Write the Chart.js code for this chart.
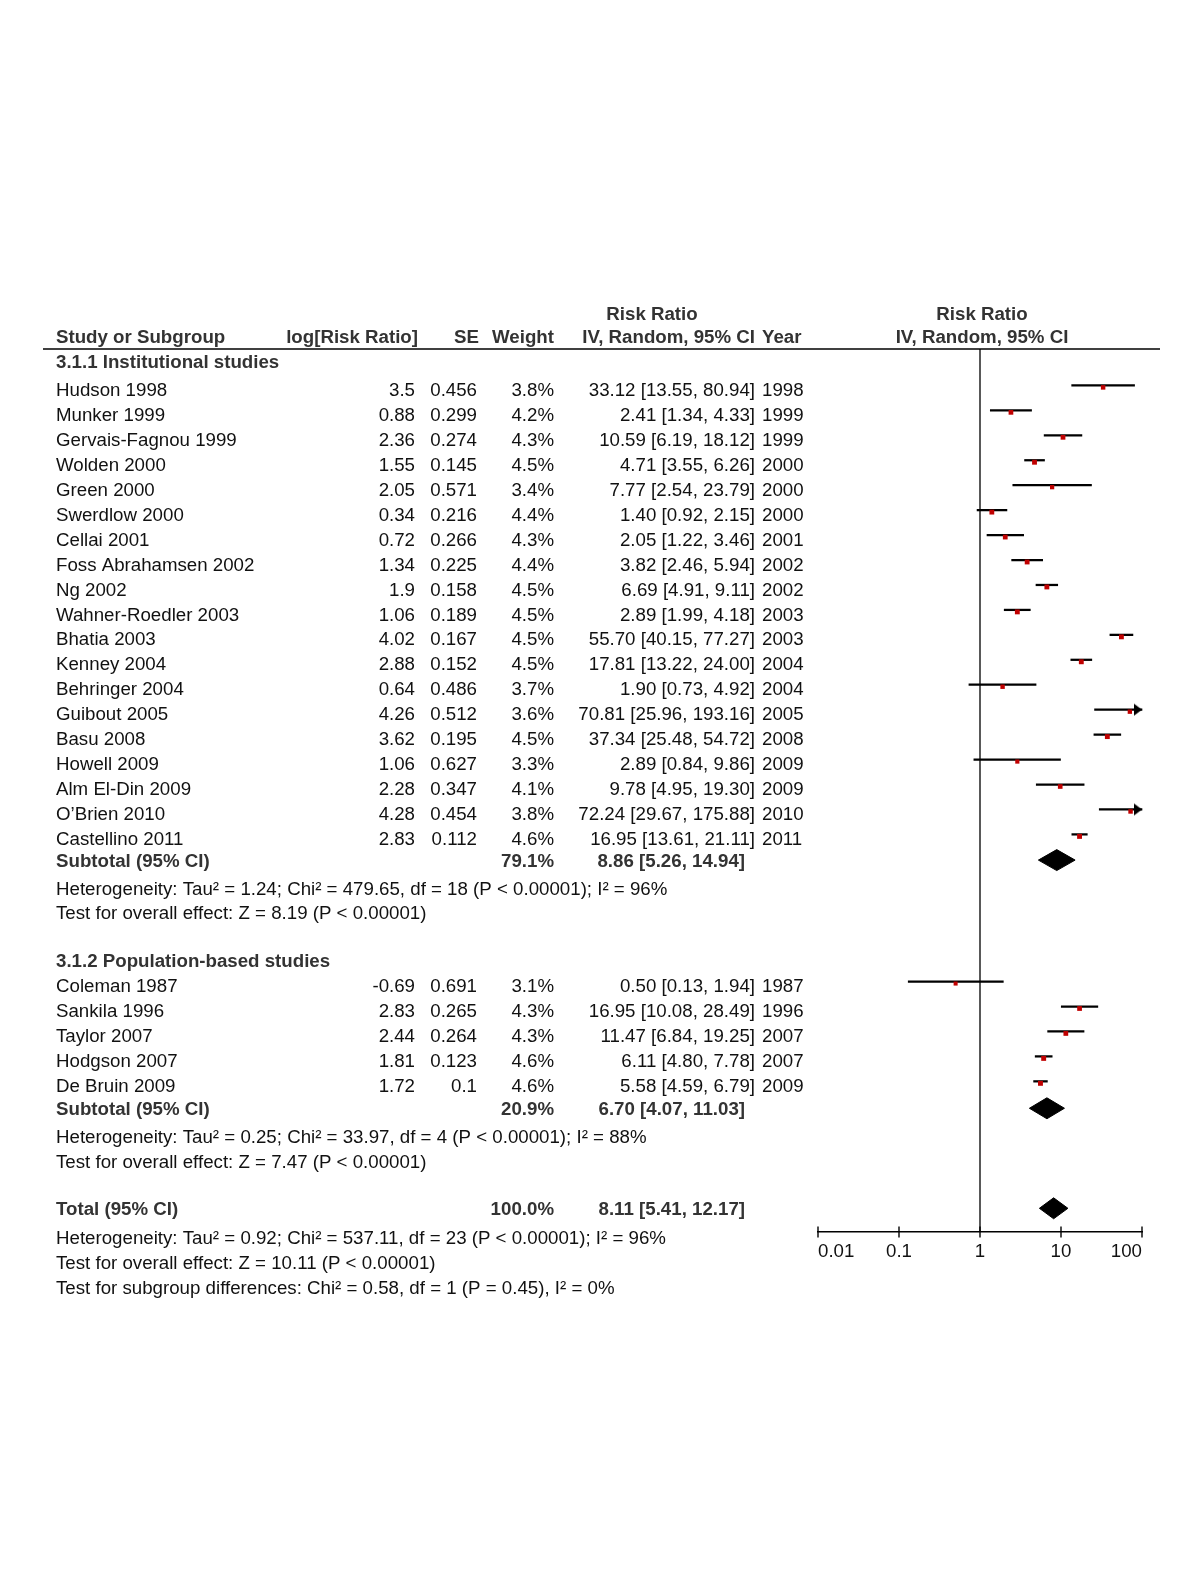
<!DOCTYPE html>
<html><head><meta charset="utf-8">
<script src="https://cdn.jsdelivr.net/npm/chart.js@4/dist/chart.umd.min.js"></script>
<style>html,body{margin:0;padding:0;background:#fff;}canvas{display:block;}</style>
</head><body>
<canvas id="c" width="1200" height="1595"></canvas>
<script>
// ---------- DATA ----------
const studies1 = ["Hudson 1998","Munker 1999","Gervais-Fagnou 1999","Wolden 2000","Green 2000","Swerdlow 2000","Cellai 2001","Foss Abrahamsen 2002","Ng 2002","Wahner-Roedler 2003","Bhatia 2003","Kenney 2004","Behringer 2004","Guibout 2005","Basu 2008","Howell 2009","Alm El-Din 2009","O\u2019Brien 2010","Castellino 2011"];
const logRR1  = [3.5,0.88,2.36,1.55,2.05,0.34,0.72,1.34,1.9,1.06,4.02,2.88,0.64,4.26,3.62,1.06,2.28,4.28,2.83];
const se1     = [0.456,0.299,0.274,0.145,0.571,0.216,0.266,0.225,0.158,0.189,0.167,0.152,0.486,0.512,0.195,0.627,0.347,0.454,0.112];
const weight1 = [3.8,4.2,4.3,4.5,3.4,4.4,4.3,4.4,4.5,4.5,4.5,4.5,3.7,3.6,4.5,3.3,4.1,3.8,4.6];
const rr1     = [33.12,2.41,10.59,4.71,7.77,1.40,2.05,3.82,6.69,2.89,55.70,17.81,1.90,70.81,37.34,2.89,9.78,72.24,16.95];
const lo1     = [13.55,1.34,6.19,3.55,2.54,0.92,1.22,2.46,4.91,1.99,40.15,13.22,0.73,25.96,25.48,0.84,4.95,29.67,13.61];
const hi1     = [80.94,4.33,18.12,6.26,23.79,2.15,3.46,5.94,9.11,4.18,77.27,24.00,4.92,193.16,54.72,9.86,19.30,175.88,21.11];
const year1   = [1998,1999,1999,2000,2000,2000,2001,2002,2002,2003,2003,2004,2004,2005,2008,2009,2009,2010,2011];

const studies2 = ["Coleman 1987","Sankila 1996","Taylor 2007","Hodgson 2007","De Bruin 2009"];
const logRR2  = [-0.69,2.83,2.44,1.81,1.72];
const se2     = [0.691,0.265,0.264,0.123,0.1];
const weight2 = [3.1,4.3,4.3,4.6,4.6];
const rr2     = [0.50,16.95,11.47,6.11,5.58];
const lo2     = [0.13,10.08,6.84,4.80,4.59];
const hi2     = [1.94,28.49,19.25,7.78,6.79];
const year2   = [1987,1996,2007,2007,2009];

const pooledLabels = ["Subtotal (95% CI)","Subtotal (95% CI)","Total (95% CI)"];
const pooledWeight = [79.1,20.9,100.0];
const pooledRR     = [8.86,6.70,8.11];
const pooledLo     = [5.26,4.07,5.41];
const pooledHi     = [14.94,11.03,12.17];

const groupTitles = ["3.1.1 Institutional studies","3.1.2 Population-based studies"];
const notes1 = ["Heterogeneity: Tau\u00b2 = 1.24; Chi\u00b2 = 479.65, df = 18 (P < 0.00001); I\u00b2 = 96%","Test for overall effect: Z = 8.19 (P < 0.00001)"];
const notes2 = ["Heterogeneity: Tau\u00b2 = 0.25; Chi\u00b2 = 33.97, df = 4 (P < 0.00001); I\u00b2 = 88%","Test for overall effect: Z = 7.47 (P < 0.00001)"];
const notes3 = ["Heterogeneity: Tau\u00b2 = 0.92; Chi\u00b2 = 537.11, df = 23 (P < 0.00001); I\u00b2 = 96%","Test for overall effect: Z = 10.11 (P < 0.00001)","Test for subgroup differences: Chi\u00b2 = 0.58, df = 1 (P = 0.45), I\u00b2 = 0%"];
const xTicks = [0.01,0.1,1,10,100];
const xMin = 0.01, xMax = 100;

// ---------- LAYOUT (row units) ----------
const R = {hdr1:-3.05, hdr2:-2.13, sep:-1.68, grp1:-1.12, s1:0, sub1:18.88, n1:[20.0,20.97],
           grp2:22.9, s2:23.9, sub2:28.83, n2:[29.95,30.95], total:32.84, axis:33.72, n3:[33.98,35.0,35.98]};
const lineOff = -0.22, sqOff = -0.14, diaOff = -0.07, diaH = 0.42;
const rows1 = studies1.map((_, i) => R.s1 + i);
const rows2 = studies2.map((_, i) => R.s2 + i);
const pooledRows = [R.sub1, R.sub2, R.total];

const FONT = '"Liberation Sans", Arial, Helvetica, sans-serif';
const FS = 18.7;
const C_TXT = '#111', C_BOLD = '#333', RED = '#c00000';

// ---------- DATASETS ----------
const allLo = lo1.concat(lo2), allHi = hi1.concat(hi2), allRR = rr1.concat(rr2);
const allRows = rows1.concat(rows2), allW = weight1.concat(weight2);

const ciData = allRows.map((r, i) => ({y: r + lineOff, x: [Math.max(allLo[i], xMin), Math.min(allHi[i], xMax)]}));
const sqData = allRows.map((r, i) => ({x: allRR[i], y: r + sqOff}));
const arrowData = allRows.map((r, i) => allHi[i] > xMax ? {x: xMax, y: r + lineOff} : null).filter(Boolean);

const arrowImg = document.createElement('canvas');
arrowImg.width = 18; arrowImg.height = 14;
(function(){ const g = arrowImg.getContext('2d'); g.fillStyle = '#000'; g.beginPath();
  g.moveTo(1, 1); g.lineTo(9, 7); g.lineTo(1, 13); g.closePath(); g.fill(); })();

const diamondSets = pooledRows.map((r, k) => {
  const y = r + diaOff;
  return {
    type: 'scatter', showLine: true, fill: 'shape', clip: false,
    data: [{x: pooledLo[k], y}, {x: pooledRR[k], y: y - diaH}, {x: pooledHi[k], y}, {x: pooledRR[k], y: y + diaH}, {x: pooledLo[k], y}],
    borderColor: '#000', backgroundColor: '#000', borderWidth: 1, pointRadius: 0, tension: 0, order: 1
  };
});

// ---------- TABLE TEXT PLUGIN ----------
const tablePlugin = {
  id: 'tablePlugin',
  afterDraw(chart) {
    const ctx = chart.ctx, ys = chart.scales.y;
    ctx.save();
    ctx.textBaseline = 'middle';
    const put = (t, x, row, align, bold) => {
      ctx.font = (bold ? 'bold ' : '') + FS + 'px ' + FONT;
      ctx.fillStyle = bold ? C_BOLD : C_TXT;
      ctx.textAlign = align;
      ctx.fillText(t, x, ys.getPixelForValue(row));
    };
    const X = {name:56, lrr:415, se:477, w:554, ci:755, ciP:745, yr:762, rrC:652, plotC:982};
    // headers
    put('Risk Ratio', X.rrC, R.hdr1, 'center', true);
    put('Risk Ratio', X.plotC, R.hdr1, 'center', true);
    put('Study or Subgroup', X.name, R.hdr2, 'left', true);
    put('log[Risk Ratio]', 418, R.hdr2, 'right', true);
    put('SE', 479, R.hdr2, 'right', true);
    put('Weight', X.w, R.hdr2, 'right', true);
    put('IV, Random, 95% CI', 755, R.hdr2, 'right', true);
    put('Year', X.yr, R.hdr2, 'left', true);
    put('IV, Random, 95% CI', X.plotC, R.hdr2, 'center', true);
    // separator
    ctx.strokeStyle = '#000'; ctx.lineWidth = 1.6;
    const sy = ys.getPixelForValue(R.sep);
    ctx.beginPath(); ctx.moveTo(43, sy); ctx.lineTo(1160, sy); ctx.stroke();
    // groups
    put(groupTitles[0], X.name, R.grp1, 'left', true);
    put(groupTitles[1], X.name, R.grp2, 'left', true);
    const ciTxt = (a, b, c) => a.toFixed(2) + ' [' + b.toFixed(2) + ', ' + c.toFixed(2) + ']';
    const rowsOut = (names, lrr, se, w, rr, lo, hi, yr, rows) => names.forEach((n, i) => {
      const r = rows[i];
      put(n, X.name, r, 'left', false);
      put(String(lrr[i]), X.lrr, r, 'right', false);
      put(String(se[i]), X.se, r, 'right', false);
      put(w[i].toFixed(1) + '%', X.w, r, 'right', false);
      put(ciTxt(rr[i], lo[i], hi[i]), X.ci, r, 'right', false);
      put(String(yr[i]), X.yr, r, 'left', false);
    });
    rowsOut(studies1, logRR1, se1, weight1, rr1, lo1, hi1, year1, rows1);
    rowsOut(studies2, logRR2, se2, weight2, rr2, lo2, hi2, year2, rows2);
    pooledRows.forEach((r, k) => {
      put(pooledLabels[k], X.name, r, 'left', true);
      put(pooledWeight[k].toFixed(1) + '%', X.w, r, 'right', true);
      put(ciTxt(pooledRR[k], pooledLo[k], pooledHi[k]), X.ciP, r, 'right', true);
    });
    notes1.forEach((t, i) => put(t, X.name, R.n1[i], 'left', false));
    notes2.forEach((t, i) => put(t, X.name, R.n2[i], 'left', false));
    notes3.forEach((t, i) => put(t, X.name, R.n3[i], 'left', false));
    ctx.restore();
  }
};

new Chart(document.getElementById('c'), {
  type: 'scatter',
  data: {
    datasets: [
      { type: 'scatter', showLine: true, data: [{x: 1, y: R.sep}, {x: 1, y: R.axis}], borderColor: '#000', borderWidth: 1.3, pointRadius: 0, clip: false, order: 5 },
      { type: 'bar', indexAxis: 'y', data: ciData, backgroundColor: '#000', borderWidth: 0, barThickness: 1.6, grouped: false, clip: false, order: 4 },
      { type: 'scatter', data: sqData, pointStyle: 'rect', pointRadius: allW.map(w => 1.62 * Math.sqrt(w)), backgroundColor: RED, borderWidth: 0, clip: false, order: 2 },
      { type: 'scatter', data: arrowData, pointStyle: arrowImg, pointRadius: 7, clip: false, order: 3 },
      ...diamondSets,
      { type: 'scatter', data: xTicks.map(v => ({x: v, y: R.axis})), pointStyle: 'line', rotation: 90, pointRadius: 5.5, borderColor: '#000', borderWidth: 1.4, clip: false, order: 6 }
    ]
  },
  options: {
    responsive: false, animation: false, devicePixelRatio: 1,
    layout: { padding: { left: 818, right: 58, top: 349, bottom: 1595 - 1232 - 40 } },
    plugins: { legend: { display: false }, tooltip: { enabled: false } },
    scales: {
      x: {
        type: 'logarithmic', min: xMin, max: xMax, position: 'bottom',
        afterBuildTicks: s => { s.ticks = xTicks.map(v => ({value: v})); },
        afterFit: s => { s.height = 40; },
        grid: { display: false, drawTicks: false },
        border: { display: true, color: '#000', width: 1.4 },
        ticks: { callback: v => String(v), align: 'inner', padding: 9, color: C_TXT, font: { family: FONT, size: FS }, autoSkip: false, maxRotation: 0 }
      },
      y: { type: 'linear', display: false, reverse: true, min: R.sep, max: R.axis, offset: false }
    }
  },
  plugins: [tablePlugin]
});
</script>
</body></html>
